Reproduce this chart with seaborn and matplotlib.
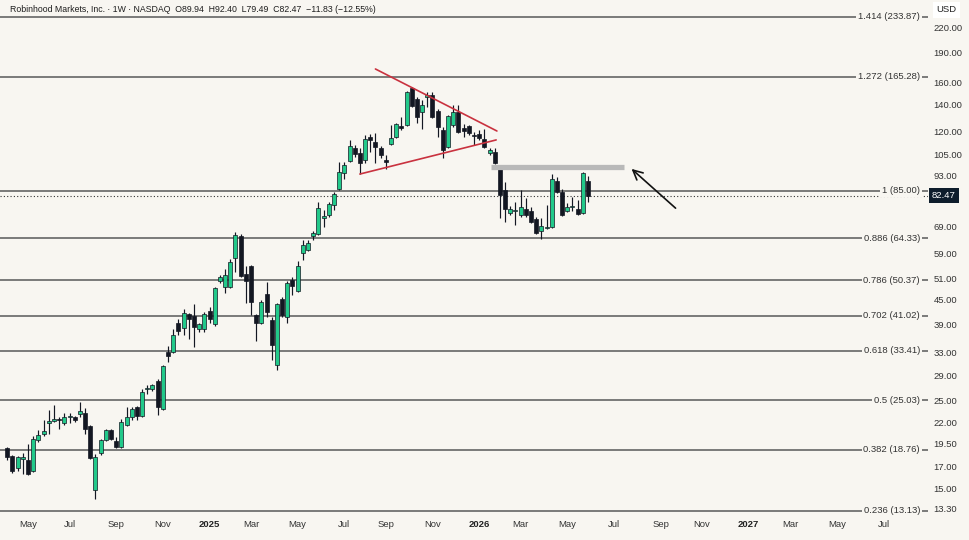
import matplotlib
matplotlib.use("Agg")
import numpy as np
import pandas as pd
import matplotlib.pyplot as plt
import matplotlib.dates as mdates
import matplotlib.transforms as mtransforms
from matplotlib.ticker import NullLocator, NullFormatter
import seaborn as sns

# ------------------------------------------------------------------ data
first_week = "2024-04-08"

opens = [18.9, 18.1, 16.9, 17.8, 17.7, 16.6, 19.9, 20.6, 21.9, 22.2,
         22.4, 21.9, 22.7, 22.7, 23.1, 23.2, 21.5, 14.8, 18.4, 19.9,
         21.1, 19.7, 19.1, 21.7, 22.7, 24.1, 22.8, 26.7, 26.8, 28.0,
         23.8, 33.1, 33.1, 39.2, 38.1, 41.3, 40.9, 38.0, 38.0, 42.1,
         39.0, 50.1, 48.5, 48.5, 57.3, 65.2, 52.2, 54.8, 41.1, 39.2,
         46.5, 39.9, 30.7, 45.2, 40.7, 50.4, 47.3, 59.1, 60.1, 65.2,
         65.9, 72.6, 73.7, 78.1, 85.8, 94.4, 101.0, 109.0, 105.8, 101.6,
         116.2, 112.8, 109.0, 101.3, 111.5, 116.2, 124.0, 124.6, 154.6, 145.0,
         134.5, 146.5, 148.4, 135.2, 121.0, 109.6, 124.6, 134.5, 122.5, 124.0,
         117.2, 118.2, 114.8, 105.8, 106.4, 97.0, 85.3, 74.6, 75.4, 73.7,
         76.3, 75.4, 72.1, 67.1, 68.5, 68.7, 89.8, 84.3, 75.4, 77.3,
         76.3, 74.6, 89.94]
highs = [19.1, 18.2, 18.1, 18.4, 19.4, 20.3, 21.0, 22.3, 23.6, 24.4,
         22.7, 23.2, 23.2, 22.9, 24.8, 23.9, 21.7, 18.3, 20.0, 21.2,
         21.2, 20.2, 22.5, 24.1, 24.1, 24.2, 26.7, 27.3, 27.6, 28.4,
         30.7, 34.3, 37.9, 40.1, 42.6, 41.6, 43.9, 39.2, 41.8, 43.1,
         48.5, 51.9, 53.8, 57.0, 66.8, 66.0, 54.8, 55.1, 41.3, 44.9,
         49.8, 40.7, 44.1, 45.7, 50.1, 51.4, 56.4, 63.7, 63.9, 67.1,
         79.5, 75.9, 79.4, 84.3, 100.4, 100.4, 114.1, 110.9, 109.0, 117.5,
         118.2, 118.9, 110.3, 104.6, 124.6, 126.0, 130.6, 151.5, 155.5, 146.7,
         144.1, 150.6, 150.6, 136.8, 123.2, 132.1, 140.0, 140.0, 125.3, 124.6,
         119.5, 121.0, 121.7, 109.0, 109.0, 97.6, 89.3, 77.6, 79.4, 85.3,
         81.4, 77.3, 72.9, 72.5, 78.1, 93.6, 92.0, 85.8, 79.0, 81.9,
         80.4, 94.9, 92.40]
lows = [17.7, 16.4, 16.6, 16.3, 16.2, 16.5, 19.6, 20.3, 20.6, 22.0,
        21.2, 21.7, 21.9, 22.0, 22.7, 20.6, 17.8, 14.1, 18.2, 19.7,
        19.9, 18.9, 18.9, 21.6, 22.3, 22.3, 22.7, 26.0, 26.4, 23.0,
        23.6, 31.2, 32.9, 36.6, 36.6, 35.7, 34.1, 37.3, 37.3, 39.2,
        38.6, 49.6, 46.7, 48.3, 52.9, 51.4, 44.2, 41.1, 35.3, 39.0,
        40.7, 31.6, 29.8, 40.7, 39.2, 46.2, 47.0, 56.7, 59.8, 63.7,
        65.6, 68.7, 72.9, 75.9, 85.3, 91.0, 100.4, 103.4, 93.6, 99.8,
        106.4, 99.8, 102.8, 96.4, 110.9, 115.5, 121.0, 124.0, 138.4, 126.0,
        121.7, 138.4, 129.8, 116.2, 102.8, 109.0, 123.2, 118.9, 116.2, 117.5,
        110.9, 114.1, 109.0, 104.6, 99.3, 72.5, 70.8, 73.7, 69.5, 72.9,
        72.9, 70.4, 66.0, 64.1, 67.9, 68.3, 83.8, 73.3, 75.0, 75.4,
        73.7, 74.2, 79.49]
closes = [18.0, 16.6, 18.0, 18.0, 16.3, 20.0, 20.5, 20.9, 22.2, 22.4,
          22.35, 22.7, 22.9, 22.3, 23.5, 21.2, 17.9, 18.0, 19.9, 21.1,
          20.0, 19.1, 22.0, 22.7, 23.8, 22.8, 26.2, 26.9, 27.3, 24.1,
          30.6, 32.4, 36.6, 37.5, 41.6, 40.1, 38.4, 39.0, 41.3, 40.1,
          48.1, 51.4, 51.9, 56.1, 65.6, 51.6, 50.1, 44.4, 39.2, 44.4,
          41.8, 34.5, 43.9, 41.1, 49.6, 48.8, 54.8, 61.9, 62.7, 66.4,
          76.6, 73.1, 78.5, 83.3, 94.9, 98.7, 110.3, 105.2, 99.8, 114.8,
          114.1, 109.6, 104.6, 100.7, 115.5, 125.3, 122.5, 150.6, 139.2, 130.6,
          140.0, 148.0, 130.6, 123.2, 107.7, 131.3, 134.5, 119.5, 120.3, 118.9,
          116.6, 115.5, 109.6, 107.7, 99.8, 82.8, 76.3, 76.3, 75.9, 77.3,
          73.7, 70.8, 66.4, 69.1, 68.9, 91.0, 84.3, 73.7, 77.3, 77.8,
          74.1, 94.4, 82.47]

fib_ratios = ["1.414", "1.272", "1", "0.886", "0.786", "0.702", "0.618", "0.5", "0.382", "0.236"]
fib_prices = [233.87, 165.28, 85.00, 64.33, 50.37, 41.02, 33.41, 25.03, 18.76, 13.13]

price_ticks = [220, 190, 160, 140, 120, 105, 93, 69, 59, 51, 45, 39, 33, 29, 25, 22, 19.5, 17, 15, 13.3]
last_close = 82.47

title_text = ("Robinhood Markets, Inc. \u00b7 1W \u00b7 NASDAQ  O89.94  H92.40  L79.49  "
              "C82.47  \u221211.83 (\u221212.55%)")

tri_upper_dates = ["2025-08-18", "2026-01-29"]
tri_upper_prices = [172.7, 120.3]
tri_lower_dates = ["2025-07-28", "2026-01-28"]
tri_lower_prices = [93.6, 114.2]
zone_dates = ["2026-01-21", "2026-07-20"]
zone_prices = [97.8, 97.8]
arrow_head = ["2026-07-27", 97.5]
arrow_tail = ["2026-09-30", 75.9]

# ------------------------------------------------------------------ style
BG = "#f8f6f1"
UP = "#22c98a"
DOWN = "#131722"
FIB = "#5f5f5f"
TXT = "#333333"

sns.set_theme(style="white", rc={"axes.facecolor": BG, "figure.facecolor": BG})
plt.rcParams["font.family"] = ["Liberation Sans", "DejaVu Sans"]

df = pd.DataFrame({
    "date": pd.date_range(first_week, periods=len(opens), freq="7D"),
    "open": opens, "high": highs, "low": lows, "close": closes,
})
df["x"] = mdates.date2num(df["date"])
df["up"] = df["close"] >= df["open"]
df["bottom"] = df[["open", "close"]].min(axis=1)
df["height"] = (df["close"] - df["open"]).abs()
df["height"] = np.maximum(df["height"], df["bottom"] * 0.005)

fig = plt.figure(figsize=(9.7, 5.4), dpi=100, facecolor=BG)
ax = fig.add_axes([0, 28 / 540, 928 / 970, 512 / 540])
ax.set_facecolor(BG)
ax.set_yscale("log")
ax.set_ylim(13.05, 258.2)
start = mdates.date2num(pd.Timestamp(first_week))
ax.set_xlim(start - 9.86, start + 1243)

# fib levels
trans = mtransforms.blended_transform_factory(ax.transAxes, ax.transData)
for r, p in zip(fib_ratios, fib_prices):
    ax.axhline(p, color=FIB, lw=1.15, zorder=1)
    ax.text(0.9915, p, f"{r} ({p:.2f})", transform=trans, ha="right", va="center",
            fontsize=6.8, color=TXT, zorder=6,
            bbox=dict(facecolor=BG, edgecolor="none", pad=1.3))

# last close dotted line
ax.axhline(last_close, color="#333", lw=0.8, ls=(0, (1, 2)), zorder=1)

# candles
ax.vlines(df["x"], df["low"], df["high"], color=DOWN, lw=0.85, zorder=3)
u = df[df["up"]]
d = df[~df["up"]]
ax.bar(u["x"], u["height"], bottom=u["bottom"], width=5.4, color=UP,
       edgecolor=DOWN, linewidth=0.5, zorder=4)
ax.bar(d["x"], d["height"], bottom=d["bottom"], width=5.4, color=DOWN,
       edgecolor=DOWN, linewidth=0.5, zorder=4)

# triangle lines
tri = pd.DataFrame({
    "date": pd.to_datetime(tri_upper_dates + tri_lower_dates),
    "price": tri_upper_prices + tri_lower_prices,
    "line": ["upper", "upper", "lower", "lower"],
})
tri["x"] = mdates.date2num(tri["date"])
sns.lineplot(data=tri, x="x", y="price", units="line", estimator=None,
             color="#c9323f", lw=1.2, ax=ax, zorder=5, legend=False)

# resistance zone
ax.plot(mdates.date2num(pd.to_datetime(zone_dates)), zone_prices, color="#b9b9b9",
        lw=3.8, solid_capstyle="butt", zorder=5)

# arrow
ax.annotate("", xy=(mdates.date2num(pd.Timestamp(arrow_head[0])), arrow_head[1]),
            xytext=(mdates.date2num(pd.Timestamp(arrow_tail[0])), arrow_tail[1]),
            arrowprops=dict(arrowstyle="->", color="#111111", lw=1.2, mutation_scale=17),
            zorder=6)

# y axis (right)
ax.yaxis.tick_right()
ax.yaxis.set_minor_locator(NullLocator())
ax.yaxis.set_minor_formatter(NullFormatter())
ax.set_yticks(price_ticks)
ax.set_yticklabels([f"{t:.2f}" for t in price_ticks])
ax.tick_params(axis="y", length=0, pad=4, labelsize=6.8, colors=TXT)

# x axis: first weekly candle of every other month
tick_pos, tick_lab = [], []
for m in pd.date_range("2024-05-01", "2027-07-01", freq="2MS"):
    mon = m + pd.Timedelta(days=(7 - m.weekday()) % 7)
    tick_pos.append(mdates.date2num(mon))
    tick_lab.append(str(m.year) if m.month == 1 else m.strftime("%b"))
ax.set_xticks(tick_pos)
ax.set_xticklabels(tick_lab)
ax.tick_params(axis="x", length=0, pad=6, labelsize=6.8, colors=TXT)
for lbl in ax.get_xticklabels():
    if lbl.get_text().isdigit():
        lbl.set_fontweight("bold")
        lbl.set_color("#222222")

for s in ax.spines.values():
    s.set_visible(False)
ax.set_xlabel("")
ax.set_ylabel("")
ax.grid(False)

# last price tag
ax.text(1.0 + 4 / 928, last_close, f"{last_close:.2f}", transform=trans, ha="left",
        va="center", fontsize=6.8, color="white", zorder=7, clip_on=False,
        bbox=dict(facecolor="#0e1d2c", edgecolor="none", pad=2.2))

# currency tag
fig.text(936 / 970, 1 - 10 / 540, "USD", ha="left", va="center", fontsize=6.8,
         color="#222", bbox=dict(facecolor="white", edgecolor="none", pad=2.5))

# header
fig.text(10 / 970, 1 - 10 / 540, title_text, ha="left", va="center", fontsize=6.3,
         color="#1e1e1e")

fig.savefig("out.png", dpi=100, facecolor=BG)
